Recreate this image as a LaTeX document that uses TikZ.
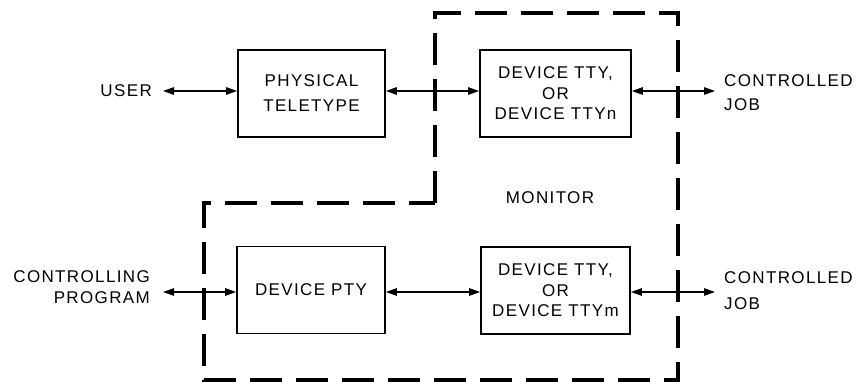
\documentclass[tikz,border=0pt]{standalone}
\usepackage{fontspec}
\setmainfont{Liberation Sans}[LetterSpace=8]
\usetikzlibrary{arrows.meta}
\begin{document}
\begin{tikzpicture}[x=1pt,y=-1pt,
  lbl/.style={font=\fontsize{17}{20.5}\selectfont, inner sep=0pt},
  blk/.style={draw, line width=1.8pt, minimum width=147pt, minimum height=87pt, align=center, inner sep=0pt, font=\fontsize{17}{20.5}\selectfont},
  link/.style={line width=1.2pt, {Triangle[length=11pt,width=7.5pt]}-{Triangle[length=11pt,width=7.5pt]}},
  bound/.style={line width=4.5pt, dash pattern=on 32pt off 14pt, line join=miter}]
\useasboundingbox (0,0) rectangle (859,387);
% monitor boundary
\draw[bound] (435,203) -- (435,13) -- (678,13) -- (678,380) -- (204,380) -- (204,203) -- cycle;
% blocks
\node[blk, font=\fontsize{17}{25}\selectfont] (pt) at (311.5,93.5) {PHYSICAL\\TELETYPE};
\node[blk, minimum width=151pt] (ttyn) at (555.5,93.5) {DEVICE TTY,\\OR\\DEVICE TTYn};
\node[blk, minimum width=148pt] (pty) at (311,290) {DEVICE PTY};
\node[blk, minimum width=149pt] (ttym) at (555.5,290.5) {DEVICE TTY,\\OR\\DEVICE TTYm};
% labels
\node[lbl, anchor=east] (user) at (152,91) {USER};
\node[lbl, anchor=west, align=left, font=\fontsize{17}{24}\selectfont] (cj1) at (724,93) {CONTROLLED\\JOB};
\node[lbl, anchor=east, align=right] (cp) at (150,287) {CONTROLLING\\PROGRAM};
\node[lbl, anchor=west, align=left, font=\fontsize{17}{26}\selectfont] (cj2) at (724,291) {CONTROLLED\\JOB};
\node[lbl] (mon) at (550,198) {MONITOR};
% connector ends
\coordinate (ua) at (163,91);
\coordinate (ja) at (715,91);
\coordinate (ca) at (163,292);
\coordinate (jb) at (715,292);
% connectors
\draw[link] (ua) -- (ua -| pt.west);
\draw[link] (pt.east |- ua) -- (ttyn.west |- ua);
\draw[link] (ttyn.east |- ja) -- (ja);
\draw[link] (ca) -- (ca -| pty.west);
\draw[link] (pty.east |- ca) -- (ttym.west |- ca);
\draw[link] (ttym.east |- jb) -- (jb);
\end{tikzpicture}
\end{document}
